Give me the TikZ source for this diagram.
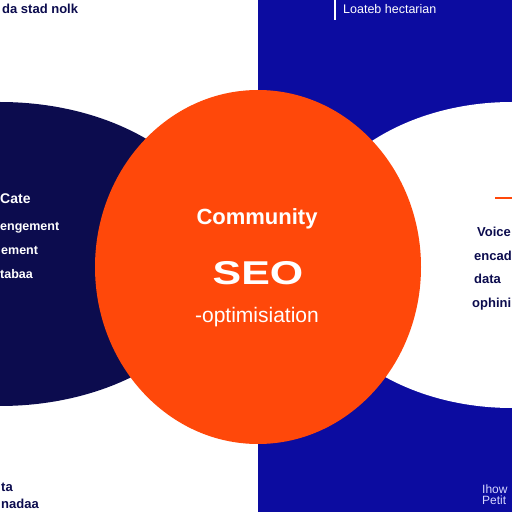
\documentclass[tikz,border=0pt]{standalone}
\usepackage{fontspec}
\setmainfont{Liberation Sans}
\definecolor{navy}{RGB}{12,12,78}
\definecolor{royal}{RGB}{12,12,160}
\definecolor{flame}{RGB}{255,72,10}
\definecolor{lilac}{RGB}{215,215,255}
\tikzset{
  sidetxt/.style={font=\fontsize{13}{15}\selectfont\bfseries, text=navy, inner sep=0pt, anchor=base west},
  lefttxt/.style={font=\fontsize{12.5}{15}\selectfont\bfseries, text=white, inner sep=0pt, anchor=base west},
  righttxt/.style={sidetxt, font=\fontsize{13}{15}\selectfont\bfseries},
  centretxt/.style={text=white, inner sep=0pt}
}
\begin{document}
\begin{tikzpicture}
    [x=1pt,y=1pt]
    \useasboundingbox (0,0) rectangle (512,512);
    \clip (0,0) rectangle (512,512);
    %background halves
    \fill[white] (0,0) rectangle (258,512);
    \fill[royal] (258,0) rectangle (512,512);
    %side ellipses
    \fill[navy] (0,258) ellipse [x radius=224, y radius=152];
    \fill[white] (512,257) ellipse [x radius=210, y radius=153];
    %centre disc
    \fill[flame] (258,245) ellipse [x radius=163, y radius=177];
    %centre labels
    \node[centretxt, font=\fontsize{22}{26}\selectfont\bfseries] (community) at (257,293) {Community};
    \node[centretxt, font=\fontsize{33}{38}\selectfont\bfseries] (seo) at (258,239) {\scalebox{1.3}[1]{SEO}};
    \node[centretxt, font=\fontsize{21}{25}\selectfont] (optim) at (257,195) {-optimisiation};
    %top corners
    \node[sidetxt] (stad) at (2,498) {da stad nolk};
    \draw[white, line width=1.2] (335,512) -- (335,492);
    \node[sidetxt, font=\fontsize{12.5}{15}\selectfont, text=white] (loateb) at (343,498) {Loateb hectarian};
    %left ellipse labels
    \node[lefttxt, font=\fontsize{14}{16}\selectfont\bfseries] (cate) at (0,308) {Cate};
    \node[lefttxt] (engage) at (0,281) {engement};
    \node[lefttxt] (ement) at (1,257) {ement};
    \node[lefttxt] (tabaa) at (0,233) {tabaa};
    %right ellipse labels
    \draw[flame, line width=2] (495,314) -- (512,314);
    \node[righttxt] (voice) at (477,275) {Voice};
    \node[righttxt] (encad) at (474,251) {encad};
    \node[righttxt] (data) at (474,228) {data};
    \node[righttxt] (ophini) at (472,204) {ophini};
    %bottom corners
    \node[sidetxt] (ta) at (1,20) {ta};
    \node[sidetxt] (nadaa) at (1,4) {nadaa};
    \node[sidetxt, font=\fontsize{12}{14}\selectfont, text=lilac] (ihow) at (482,19) {Ihow};
    \node[sidetxt, font=\fontsize{12}{14}\selectfont, text=lilac] (petit) at (482,7) {Petit};
\end{tikzpicture}
\end{document}
